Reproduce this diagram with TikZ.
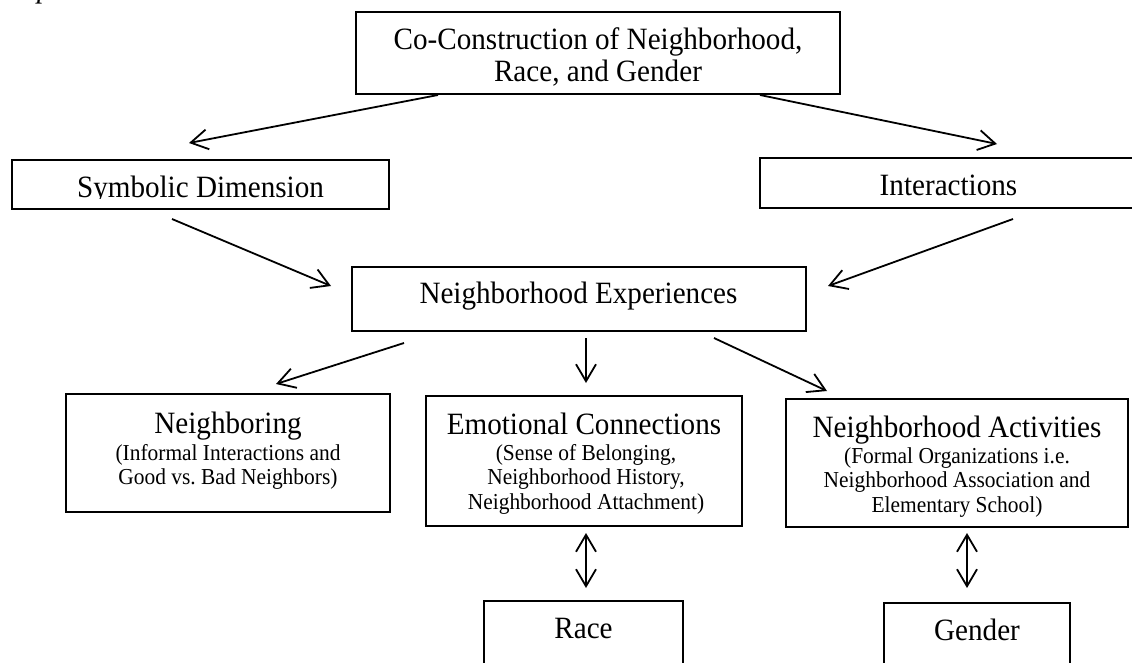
\documentclass[tikz,border=0pt]{standalone}
\usepackage{fontspec}
\setmainfont{Liberation Serif}[FakeStretch=0.94]
\usetikzlibrary{arrows.meta,calc}
\frenchspacing
\newcommand\ttlfont{\fontsize{31}{32}\selectfont}
\newcommand\subfont{\fontsize{22.8}{24.5}\selectfont}
\begin{document}
\begin{tikzpicture}[x=1pt,y=-1pt,
  box/.style={draw,line width=1.8pt,inner sep=0pt,outer sep=0pt},
  txt/.style={inner sep=0pt,anchor=base},
  arr/.style={line width=1.8pt,-{Straight Barb[length=17pt,width=20pt]}},
  biarr/.style={line width=1.8pt,{Straight Barb[length=17pt,width=20pt]}-{Straight Barb[length=17pt,width=20pt]}}]
\useasboundingbox (0,0) rectangle (1132,663);

% partial caption letter at the top edge
\node[inner sep=0pt,anchor=base west] (capP) at (37,-2) {\ttlfont\itshape p};

% boxes
\node[box,minimum width=484pt,minimum height=82pt] (top) at (598,53) {};
\node[box,minimum width=377pt,minimum height=49pt] (sd) at (200.5,184.5) {};
\node[box,minimum width=376pt,minimum height=50pt] (ia) at (948,183) {};
\node[box,minimum width=454pt,minimum height=64pt] (ne) at (579,299) {};
\node[box,minimum width=324pt,minimum height=118pt] (nb) at (228,453) {};
\node[box,minimum width=316pt,minimum height=130pt] (ec) at (584,461) {};
\node[box,minimum width=342pt,minimum height=128pt] (na) at (957,463) {};
\node[box,minimum width=199pt,minimum height=67pt] (race) at (583.5,634.5) {};
\node[box,minimum width=186pt,minimum height=65pt] (gender) at (977,635.5) {};

% texts
\node[txt] (topT) at (598,50) {\ttlfont\begin{tabular}[t]{@{}c@{}}Co-Construction of Neighborhood,\\Race, and Gender\end{tabular}};
\node[txt] (sdT) at (200.5,197) {\ttlfont Symbolic Dimension};
\fill[white] ($(sd.south west)+(2,-10)$) rectangle ($(sd.south east)+(-2,-1.5)$);
\node[txt] (iaT) at (948.5,196) {\ttlfont Interactions};
\node[txt] (neT) at (578.5,303) {\ttlfont Neighborhood Experiences};
\node[txt] (nbT) at (228,433) {\ttlfont Neighboring};
\node[txt] (nbS) at (228,460) {\subfont\begin{tabular}[t]{@{}c@{}}(Informal Interactions and\\Good vs. Bad Neighbors)\end{tabular}};
\node[txt] (ecT) at (584,434) {\ttlfont Emotional Connections};
\node[txt] (ecS) at (586,460) {\subfont\begin{tabular}[t]{@{}c@{}}(Sense of Belonging,\\Neighborhood History,\\Neighborhood Attachment)\end{tabular}};
\node[txt] (naT) at (957,437) {\ttlfont Neighborhood Activities};
\node[txt] (naS) at (957,463) {\subfont\begin{tabular}[t]{@{}c@{}}(Formal Organizations i.e.\\Neighborhood Association and\\Elementary School)\end{tabular}};
\node[txt] (raceT) at (583.5,638) {\ttlfont Race};
\node[txt] (genderT) at (977,640) {\ttlfont Gender};

% connectors
\draw[arr] ($(top.south)+(-160,1)$) -- ($(sd.north)+(-11.5,-17)$);
\draw[arr] ($(top.south)+(162,1)$) -- ($(ia.north)+(49,-14)$);
\draw[arr] ($(sd.south)+(-28.5,10)$) -- ($(ne.west)+(-21,-13)$);
\draw[arr] ($(ia.south)+(65,11)$) -- ($(ne.east)+(22,-13)$);
\draw[arr] ($(ne.south)+(-175,12)$) -- ($(nb.north)+(48,-10)$);
\draw[arr] ($(ne.south)+(7,7)$) -- ($(ec.north)+(2,-13)$);
\draw[arr] ($(ne.south)+(135,7)$) -- ($(na.north)+(-130,-8)$);
\draw[biarr] ($(ec.south)+(2,7)$) -- ($(race.north)+(2.5,-13)$);
\draw[biarr] ($(na.south)+(10,6)$) -- ($(gender.north)+(-10,-15)$);
\end{tikzpicture}
\end{document}
